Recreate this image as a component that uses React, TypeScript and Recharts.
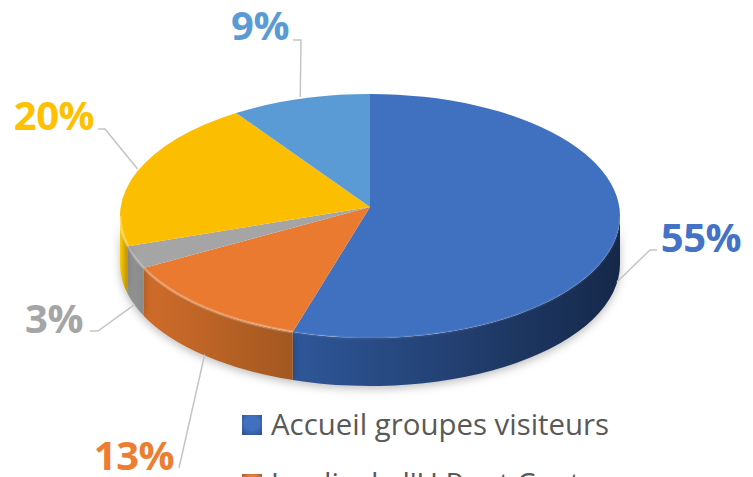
import { Legend, Pie, PieChart } from "recharts";

const categories = ["Accueil groupes visiteurs", "Jeudis de l'U Pont Canton", "", "", ""];
const shares = [55, 13, 3, 20, 9];
const faceColors = ["#4070c0", "#e97a30", "#a5a5a5", "#fcbe00", "#5b9bd5"];
const wallStart = ["#2f5799", "#d06c2a", "#979797", "#ffcc00", "#5b9bd5"];
const wallEnd = ["#152849", "#a25820", "#8a8a8a", "#b98e00", "#5b9bd5"];
const rimOpacity = [0.06, 0.25, 0.2, 0.3, 0];
const labelColors = ["#4472c4", "#ed7d31", "#a5a5a5", "#ffc000", "#5b9bd5"];

const chartData = categories.map((name, i) => ({ name, value: shares[i], fill: faceColors[i] }));

// horizontal radius comes from the Pie, the rest squashes it to the tilted ellipse
const RY_RATIO = 122 / 250;
const ELLIPSE_DROP = 9;
const DEPTH = 48;
const FONT = "'Open Sans', sans-serif";

// text anchor + elbow for every leader line, same order as the data
const labelSpots = [
  { x: 701, y: 252, elbow: [[650, 250], [657, 250]] },
  { x: 134, y: 470, elbow: [[179, 468]] },
  { x: 54, y: 333, elbow: [[98, 331], [90, 331]] },
  { x: 54, y: 130, elbow: [[105, 129], [98, 129]] },
  { x: 260, y: 40, elbow: [[301, 40], [293, 40]] },
];

function edgePoint(cx: number, cy: number, rx: number, theta: number) {
  const t = (theta * Math.PI) / 180;
  return { x: cx + rx * Math.sin(t), y: cy + ELLIPSE_DROP - rx * RY_RATIO * Math.cos(t) };
}

function Slice(props: any) {
  const { cx, cy, outerRadius: rx, startAngle, endAngle, fill, index } = props;
  const ry = rx * RY_RATIO;
  // Recharts angles -> clockwise from 12 o'clock
  const a = 90 - startAngle;
  const b = 90 - endAngle;
  const p1 = edgePoint(cx, cy, rx, a);
  const p2 = edgePoint(cx, cy, rx, b);
  const large = b - a > 180 ? 1 : 0;
  const top = `M${cx},${cy} L${p1.x},${p1.y} A${rx},${ry} 0 ${large} 1 ${p2.x},${p2.y} Z`;

  // wall only shows on the front half
  const wa = Math.max(a, 90);
  const wb = Math.min(b, 270);
  let wall = null;
  let rim = null;
  if (wb > wa) {
    const w1 = edgePoint(cx, cy, rx, wa);
    const w2 = edgePoint(cx, cy, rx, wb);
    const d = `M${w1.x},${w1.y} A${rx},${ry} 0 0 1 ${w2.x},${w2.y} L${w2.x},${w2.y + DEPTH} A${rx},${ry} 0 0 0 ${w1.x},${w1.y + DEPTH} Z`;
    const id = `wall-${index}`;
    const leftX = Math.min(w1.x, w2.x);
    const rightX = Math.max(w1.x, w2.x);
    wall = (
      <>
        <defs>
          <linearGradient id={id} gradientUnits="userSpaceOnUse" x1={leftX} x2={rightX} y1={0} y2={0}>
            <stop offset="0" stopColor={wallStart[index]} />
            <stop offset="1" stopColor={wallEnd[index]} />
          </linearGradient>
        </defs>
        <path d={d} fill={`url(#${id})`} style={{ filter: "drop-shadow(0 3px 4px rgba(0,0,0,0.25))" }} />
      </>
    );
    rim = (
      <path
        d={`M${w1.x},${w1.y} A${rx},${ry} 0 0 1 ${w2.x},${w2.y}`}
        fill="none"
        stroke="#ffffff"
        strokeOpacity={rimOpacity[index]}
        strokeWidth={3}
      />
    );
  }
  return (
    <g>
      {wall}
      <path d={top} fill={fill} />
      {rim}
    </g>
  );
}

function LeaderLabel(props: any) {
  const { cx, cy, outerRadius: rx, midAngle, index, value } = props;
  const spot = labelSpots[index];
  const theta = (90 - midAngle + 360) % 360;
  const p = edgePoint(cx, cy, rx, theta);
  const y0 = theta > 90 && theta < 270 ? p.y + DEPTH - 1 : p.y - 2;
  const pts = [[p.x, y0], ...spot.elbow].map((q) => q.join(",")).join(" ");
  return (
    <g>
      <polyline points={pts} fill="none" stroke="#c4c4c4" strokeWidth={1.5} />
      <text
        x={spot.x}
        y={spot.y}
        textAnchor="middle"
        fontFamily={FONT}
        fontWeight={700}
        fontSize={40}
        letterSpacing={-0.5}
        fill={labelColors[index]}
      >
        {value}%
      </text>
    </g>
  );
}

function KeyList({ payload }: any) {
  return (
    <div style={{ fontFamily: FONT, fontSize: 29.4, color: "#595959", lineHeight: "59px" }}>
      {(payload ?? [])
        .filter((item: any) => item.value)
        .map((item: any) => (
          <div key={item.value} style={{ display: "flex", alignItems: "center", whiteSpace: "nowrap", height: 59 }}>
            <span
              style={{
                width: 20,
                height: 20,
                marginRight: 9,
                background: `radial-gradient(circle at 50% 40%, ${item.color} 10%, ${item.color} 45%, #1f3864 130%)`,
              }}
            />
            {item.value}
          </div>
        ))}
    </div>
  );
}

export default function App() {
  return (
    <div style={{ position: "absolute", left: 0, top: 0, width: 753, height: 477, overflow: "hidden", background: "#fff" }}>
      <PieChart width={753} height={477} margin={{ top: 0, right: 0, bottom: 0, left: 0 }}>
        <Pie
          data={chartData}
          dataKey="value"
          nameKey="name"
          cx={370}
          cy={207}
          outerRadius={250}
          startAngle={90}
          endAngle={-270}
          stroke="none"
          isAnimationActive={false}
          shape={Slice}
          label={LeaderLabel}
          labelLine={false}
        />
        {/* vertical + center + middle keeps the legend from pushing the plot area around */}
        <Legend
          layout="vertical"
          align="center"
          verticalAlign="middle"
          wrapperStyle={{ left: 242, top: 395, width: 500, bottom: "auto" }}
          content={KeyList}
        />
      </PieChart>
    </div>
  );
}
